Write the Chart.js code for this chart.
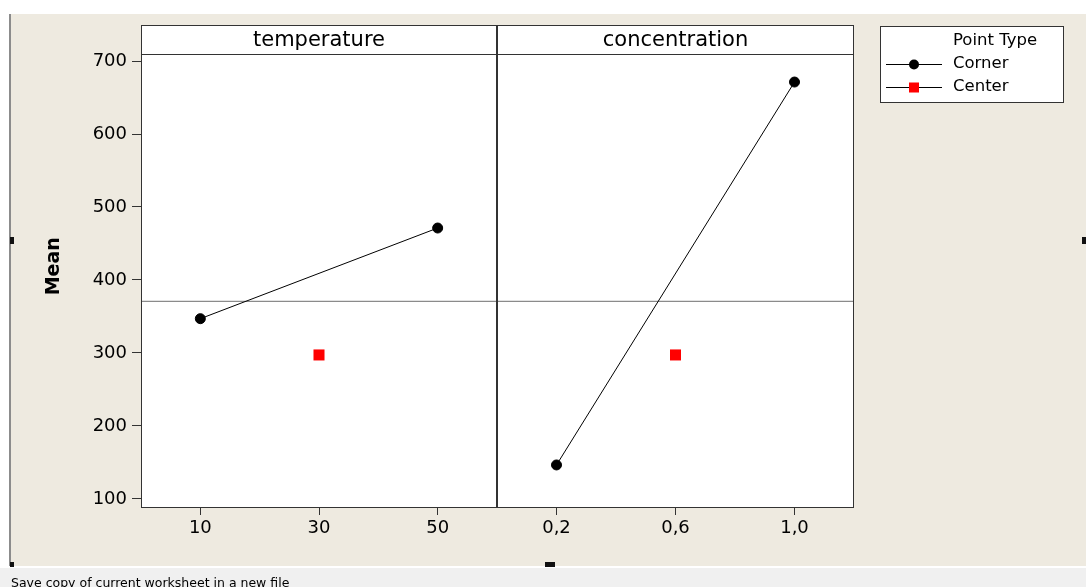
<!DOCTYPE html>
<html>
<head>
<meta charset="utf-8">
<script src="https://cdn.jsdelivr.net/npm/chart.js@4.4.1/dist/chart.umd.min.js"></script>
<style>
body{margin:0;width:1086px;height:587px;overflow:hidden;background:#fff;position:relative;font-family:"DejaVu Sans",sans-serif}
#bg{position:absolute;left:9px;top:14px;width:1077px;height:552px;background:#eeeae0;border-left:2px solid #8c8c8c;box-sizing:border-box}
#status{position:absolute;left:0;top:568px;width:1086px;height:19px;background:#f0f0f0;font-size:12.5px;color:#000;padding:7px 0 0 11px;box-sizing:border-box;white-space:nowrap}
canvas{position:absolute;top:0}
#c1{left:10px}
#c2{left:497px}
.h{position:absolute;background:#111}
</style>
</head>
<body>
<div id="bg"></div>
<canvas id="c1" width="488" height="565"></canvas>
<canvas id="c2" width="589" height="565"></canvas>
<div class="h" style="left:10px;top:237px;width:4px;height:7px"></div>
<div class="h" style="left:1082px;top:237px;width:4px;height:7px"></div>
<div class="h" style="left:545px;top:562px;width:10px;height:5px"></div>
<div class="h" style="left:10px;top:562px;width:4px;height:5px"></div>
<div id="status">Save copy of current worksheet in a new file</div>
<script>
// values
const tempLevels = [10, 50];
const tempCorner = [347.0, 471.2];
const tempCenterLevel = [30];
const tempCenter = [297.3];

const concLevels = [0.2, 1.0];
const concCorner = [146.6, 671.2];
const concCenterLevel = [0.6];
const concCenter = [297.3];

const grandMean = 370.8;

const yTicks = [100, 200, 300, 400, 500, 600, 700];
const yRange = [89, 709.6];
const tempTicks = [10, 30, 50];
const tempTickLabels = ['10', '30', '50'];
const tempRange = [0, 60];
const concTicks = [0.2, 0.6, 1.0];
const concTickLabels = ['0,2', '0,6', '1,0'];
const concRange = [0, 1.2];

Chart.defaults.font.family = '"DejaVu Sans", sans-serif';
Chart.defaults.color = '#000';

const frameColor = '#333';
const headerTop = 25.5;

// white panel, header strip with the factor name, frame
const panelPlugin = {
  id: 'panel',
  beforeDraw(chart) {
    const {ctx, chartArea: a} = chart;
    ctx.save();
    ctx.fillStyle = '#fff';
    ctx.fillRect(a.left, headerTop, a.right - a.left, a.bottom - headerTop);
    ctx.restore();
  },
  afterDraw(chart, args, opts) {
    const {ctx, chartArea: a} = chart;
    ctx.save();
    ctx.strokeStyle = frameColor;
    ctx.lineWidth = 1;
    const l = a.left + 0.5;
    const r = a.right - 0.5;
    ctx.strokeRect(l, headerTop, r - l, a.bottom + 0.5 - headerTop);
    ctx.beginPath();
    ctx.moveTo(l, a.top + 0.5);
    ctx.lineTo(r, a.top + 0.5);
    ctx.stroke();
    ctx.fillStyle = '#000';
    ctx.font = '21px "DejaVu Sans"';
    ctx.textAlign = 'center';
    ctx.textBaseline = 'middle';
    ctx.fillText(opts.title, (a.left + a.right) / 2, (headerTop + a.top) / 2 + 1);
    if (opts.first) {
      // y axis name, centred on panel + header
      ctx.translate(44, (headerTop + a.bottom) / 2);
      ctx.rotate(-Math.PI / 2);
      ctx.font = 'bold 19px "DejaVu Sans"';
      ctx.fillText('Mean', 0, 0);
    }
    ctx.restore();
  }
};

// "Point Type" legend box to the right of the panels
const legendPlugin = {
  id: 'pointLegend',
  afterDraw(chart, args, opts) {
    if (!opts.show) return;
    const ctx = chart.ctx;
    const bx = 383.5, by = 26.5;
    ctx.save();
    ctx.fillStyle = '#fff';
    ctx.fillRect(bx, by, 183, 76);
    ctx.strokeStyle = frameColor;
    ctx.lineWidth = 1;
    ctx.strokeRect(bx, by, 183, 76);
    ctx.fillStyle = '#000';
    ctx.font = '16.5px "DejaVu Sans"';
    ctx.textBaseline = 'middle';
    ctx.fillText('Point Type', 456, 41);
    const rows = chart.data.datasets.filter(d => d.inLegend);
    rows.forEach((d, i) => {
      const y = 64 + i * 23;
      ctx.strokeStyle = '#000';
      ctx.beginPath();
      ctx.moveTo(389, y + 0.5);
      ctx.lineTo(445, y + 0.5);
      ctx.stroke();
      ctx.fillStyle = d.pointBackgroundColor;
      if (d.pointStyle === 'rect') {
        ctx.fillRect(412, y - 4.5, 10, 10);
      } else {
        ctx.beginPath();
        ctx.arc(417, y + 0.5, 5, 0, Math.PI * 2);
        ctx.fill();
      }
      ctx.fillStyle = '#000';
      ctx.fillText(d.label, 456, y);
    });
    ctx.restore();
  }
};

function makePanel(id, title, levels, corner, centerLevel, center, xRange, xTicks, xLabels, first) {
  const datasets = [
    {
      label: 'Mean',
      data: [{x: xRange[0], y: grandMean}, {x: xRange[1], y: grandMean}],
      showLine: true,
      borderColor: '#6e6e6e',
      borderWidth: 1,
      pointRadius: 0,
      order: 3
    },
    {
      label: 'Corner',
      inLegend: true,
      data: levels.map((v, i) => ({x: v, y: corner[i]})),
      showLine: true,
      borderColor: '#000',
      borderWidth: 1,
      pointStyle: 'circle',
      pointRadius: 5,
      pointBackgroundColor: '#000',
      pointBorderColor: '#000',
      order: 2
    },
    {
      label: 'Center',
      inLegend: true,
      data: centerLevel.map((v, i) => ({x: v, y: center[i]})),
      showLine: false,
      pointStyle: 'rect',
      pointRadius: 7.8,
      pointBackgroundColor: '#ff0000',
      pointBorderColor: '#ff0000',
      pointBorderWidth: 0,
      order: 1
    }
  ];

  return new Chart(document.getElementById(id), {
    type: 'scatter',
    data: {datasets},
    options: {
      responsive: false,
      animation: false,
      layout: {
        autoPadding: false,
        padding: first ? {top: 54, right: 1, left: 0, bottom: 0} : {top: 54, right: 232, left: 0, bottom: 0}
      },
      plugins: {
        legend: {display: false},
        tooltip: {enabled: false},
        panel: {title, first},
        pointLegend: {show: !first}
      },
      scales: {
        x: {
          type: 'linear',
          min: xRange[0],
          max: xRange[1],
          afterBuildTicks: s => { s.ticks = xTicks.map(v => ({value: v})); },
          afterFit: s => { s.height = 58; s.paddingLeft = 0; s.paddingRight = 0; },
          border: {display: false},
          grid: {drawOnChartArea: false, tickLength: 8, tickColor: frameColor},
          ticks: {
            padding: 3,
            maxRotation: 0,
            font: {size: 18},
            callback: v => xLabels[xTicks.indexOf(v)]
          }
        },
        y: {
          display: first,
          min: yRange[0],
          max: yRange[1],
          afterBuildTicks: s => { s.ticks = yTicks.map(v => ({value: v})); },
          afterFit: s => { s.width = first ? 131 : 0; s.paddingTop = 0; s.paddingBottom = 0; },
          border: {display: false},
          grid: {drawOnChartArea: false, tickLength: 9, tickColor: frameColor},
          ticks: {padding: 5, font: {size: 18}}
        }
      }
    },
    plugins: [panelPlugin, legendPlugin]
  });
}

makePanel('c1', 'temperature', tempLevels, tempCorner, tempCenterLevel, tempCenter, tempRange, tempTicks, tempTickLabels, true);
makePanel('c2', 'concentration', concLevels, concCorner, concCenterLevel, concCenter, concRange, concTicks, concTickLabels, false);
</script>
</body>
</html>
